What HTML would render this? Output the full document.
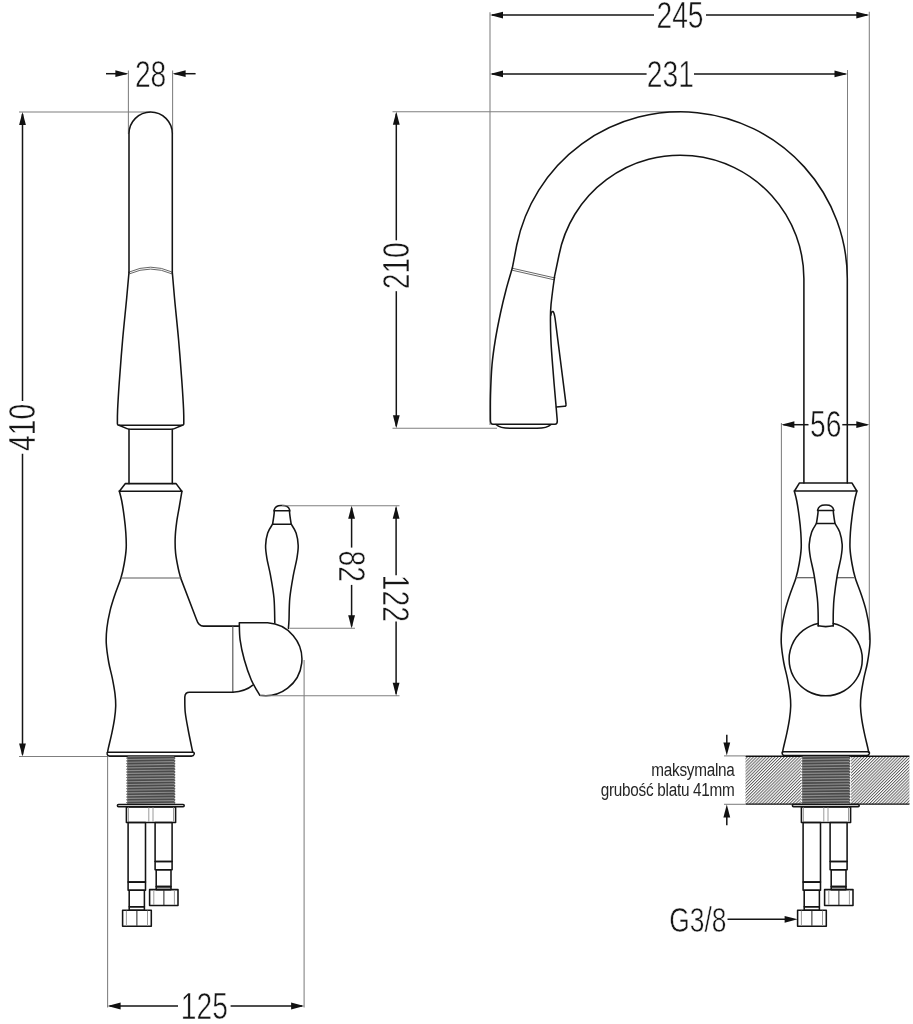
<!DOCTYPE html>
<html><head><meta charset="utf-8"><style>
html,body{margin:0;padding:0;background:#fff;}
svg{display:block;will-change:transform;}
.k{stroke:#141414;stroke-width:1.55;fill:none;stroke-linejoin:round;stroke-linecap:round;}
.g{stroke:#7f7f7f;stroke-width:1.05;fill:none;}
.b{stroke:#5a5a5a;stroke-width:1.2;fill:none;}
.r{stroke:#5e5e5e;stroke-width:0.95;fill:none;}
.c{stroke:#111;stroke-width:1.45;fill:none;}
.d{stroke:#151515;stroke-width:1.5;fill:none;}
.a{fill:#111;stroke:none;}
.t{font-family:"Liberation Sans",sans-serif;fill:#161616;stroke:#fff;stroke-width:0.55;}
.s{font-family:"Liberation Sans",sans-serif;fill:#262626;letter-spacing:-0.3px;}
</style></head><body>
<svg width="913" height="1024" viewBox="0 0 913 1024">
<rect width="913" height="1024" fill="#fff"/>
<line class="d" x1="106" y1="73.7" x2="126.5" y2="73.7"/>
<path class="a" d="M128.4,73.7 L115.4,77.1 L115.4,70.3 Z"/>
<line class="d" x1="195.6" y1="73.7" x2="174.5" y2="73.7"/>
<path class="a" d="M172.6,73.7 L185.6,70.3 L185.6,77.1 Z"/>
<line class="g" x1="128.4" y1="70.5" x2="128.4" y2="134"/>
<line class="g" x1="172.6" y1="70.5" x2="172.6" y2="134"/>
<text class="t" transform="translate(150.6,74) scale(0.773,1)" x="0" y="12.77" font-size="36.5" text-anchor="middle">28</text>
<line class="g" x1="19" y1="111.9" x2="150.6" y2="111.9"/>
<line class="d" x1="22.5" y1="113.9" x2="22.5" y2="401"/>
<line class="d" x1="22.5" y1="453.8" x2="22.5" y2="754.4"/>
<path class="a" d="M22.5,111.9 L25.9,124.9 L19.1,124.9 Z"/>
<path class="a" d="M22.5,756.4 L19.1,743.4 L25.9,743.4 Z"/>
<text class="t" transform="translate(22,427.4) rotate(-90) scale(0.773,1)" x="0" y="12.77" font-size="36.5" text-anchor="middle">410</text>
<line class="g" x1="19" y1="756.4" x2="108" y2="756.4"/>
<path class="k" d="M129,272.3 L129,133.7 A21.65,21.65 0 0 1 172.3,133.7 L172.3,272.3"/>
<path class="r" d="M129.3,272 Q150.6,262.4 172,272"/>
<path class="r" d="M129.3,273.9 Q150.6,264.3 172,273.9"/>
<path class="k" d="M129,272.3 C128.58,276.92 127.57,288.72 126.5,300 C125.43,311.28 123.8,326.33 122.6,340 C121.4,353.67 120.13,370.33 119.3,382 C118.47,393.67 117.92,403 117.6,410 C117.28,417 117.43,421.67 117.4,424 Q117.4,425.2 119,425.2 L182.2,425.2 Q183.8,425.2 183.8,424  C183.77,421.67 183.92,417 183.6,410 C183.28,403 182.73,393.67 181.9,382 C181.07,370.33 179.8,353.67 178.6,340 C177.4,326.33 175.75,311.28 174.7,300 C173.65,288.72 172.7,276.92 172.3,272.3"/>
<path class="k" d="M119,425.2 L127,428.6 Q128.5,429.2 131,429.2 L170.3,429.2 Q172.8,429.2 174.3,428.6 L182.3,425.2"/>
<line class="k" x1="129" y1="429.2" x2="129" y2="483.6"/>
<line class="k" x1="172.3" y1="429.2" x2="172.3" y2="483.6"/>
<path class="k" d="M125.4,483.6 L176.1,483.6 L181.8,491.3 L119.4,491.3 Z"/>
<path class="k" d="M119.3,491 C119.72,492.71 120.98,496.93 121.8,501.25 C122.62,505.57 123.53,511.69 124.2,516.9 C124.87,522.11 125.47,527.3 125.8,532.5 C126.13,537.7 126.47,542.89 126.2,548.1 C125.93,553.31 125.07,558.8 124.2,563.75 C123.33,568.7 122.57,572.59 121,577.8 C119.43,583.01 116.62,589.53 114.8,595 C112.98,600.47 111.42,605.1 110.1,610.6 C108.78,616.1 107.53,622.47 106.9,628 C106.27,633.53 105.99,638.05 106.3,643.8 C106.61,649.55 107.75,656.78 108.75,662.5 C109.75,668.22 111.26,672.88 112.3,678.1 C113.34,683.32 114.43,689.1 115,693.8 C115.57,698.5 115.78,702.13 115.7,706.3 C115.62,710.47 115.13,714.38 114.5,718.8 C113.87,723.22 112.93,727.87 111.9,732.8 C110.87,737.73 109.02,745.15 108.3,748.4 C107.58,751.65 107.72,751.65 107.6,752.3"/>
<path class="k" d="M107.6,752.3 L193.4,752.3 Q194.6,752.6 194.1,754.3 Q193.5,756.1 191.5,756.1 L109.6,756.1 Q107.7,756.1 107.2,754.3 Q106.9,752.6 107.6,752.3"/>
<path class="k" d="M181.9,491.3 C181.48,493.79 180.27,501.15 179.4,506.25 C178.53,511.35 177.4,516.69 176.7,521.9 C176,527.11 175.38,532.3 175.2,537.5 C175.02,542.7 175.08,547.89 175.6,553.1 C176.12,558.31 177.45,564.58 178.3,568.75 C179.15,572.92 180.3,576.54 180.7,578.1 L196.4,619.2 Q198.6,626.1 203.5,626.1 L238.6,626.1"/>
<line class="b" x1="120.9" y1="578" x2="181.8" y2="578"/>
<path class="k" d="M232.8,692.3 L189.5,692.3 Q185.1,692.3 184.8,697 C184.87,699.5 184.63,706.5 185.2,712 C185.77,717.5 186.97,723.4 188.2,730 C189.43,736.6 191.87,748 192.6,751.6"/>
<line class="b" x1="232.8" y1="626.3" x2="232.8" y2="692"/>
<path class="k" d="M232.8,692.3 Q245.5,691.5 252.8,685.2"/>
<path class="k" d="M267.6,622.8 A36.5,36.5 0 1 1 259.8,695.3 C258.37,692.78 253.78,685.63 251.2,679.7 C248.62,673.77 246.15,666.43 244.3,659.8 C242.45,653.17 240.93,646.07 240.1,639.9 C239.27,633.73 239.43,625.65 239.3,622.8 L267.6,622.8"/>
<path class="k" d="M272.6,524.2 C271.78,525.67 268.87,529.45 267.7,533 C266.53,536.55 265.73,541.28 265.6,545.5 C265.47,549.72 266.08,553.32 266.9,558.3 C267.72,563.28 269.32,568.75 270.5,575.4 C271.68,582.05 273.28,590.27 274,598.2 C274.72,606.13 274.67,618.87 274.8,623"/>
<path class="k" d="M288.4,628.4 C288.5,627 288.77,625.03 289,620 C289.23,614.97 289.08,605.63 289.8,598.2 C290.52,590.77 292.12,582.05 293.3,575.4 C294.48,568.75 296.08,563.28 296.9,558.3 C297.72,553.32 298.33,549.72 298.2,545.5 C298.07,541.28 297.27,536.55 296.1,533 C294.93,529.45 292.02,525.67 291.2,524.2"/>
<path class="k" d="M272.6,524.2 Q274.3,514 274.3,510.8 L289.5,510.8 Q289.5,514 291.2,524.2 Z"/>
<path class="k" d="M274,510.8 Q274.9,505.2 281.9,505.6 Q288.9,505.2 289.8,510.8"/>
<line class="g" x1="281.9" y1="505.8" x2="399.5" y2="505.8"/>
<line class="g" x1="289.4" y1="628.3" x2="355" y2="628.3"/>
<line class="g" x1="259.8" y1="695.8" x2="399.5" y2="695.8"/>
<line class="g" x1="304.1" y1="660" x2="304.1" y2="1007.5"/>
<line class="g" x1="107.6" y1="757" x2="107.6" y2="1007.5"/>
<line class="d" x1="351.6" y1="507.8" x2="351.6" y2="547.6"/>
<line class="d" x1="351.6" y1="584.9" x2="351.6" y2="626.3"/>
<path class="a" d="M351.6,505.8 L355,518.8 L348.2,518.8 Z"/>
<path class="a" d="M351.6,628.3 L348.2,615.3 L355,615.3 Z"/>
<text class="t" transform="translate(352,566.25) rotate(90) scale(0.773,1)" x="0" y="12.77" font-size="36.5" text-anchor="middle">82</text>
<line class="d" x1="396.1" y1="507.8" x2="396.1" y2="575.2"/>
<line class="d" x1="396.1" y1="621.6" x2="396.1" y2="693.8"/>
<path class="a" d="M396.1,505.8 L399.5,518.8 L392.7,518.8 Z"/>
<path class="a" d="M396.1,695.8 L392.7,682.8 L399.5,682.8 Z"/>
<text class="t" transform="translate(396.2,598.4) rotate(90) scale(0.773,1)" x="0" y="12.77" font-size="36.5" text-anchor="middle">122</text>
<line class="d" x1="109.6" y1="1006" x2="178" y2="1006"/>
<line class="d" x1="230.6" y1="1006" x2="302.1" y2="1006"/>
<path class="a" d="M107.6,1006 L120.6,1002.6 L120.6,1009.4 Z"/>
<path class="a" d="M304.1,1006 L291.1,1009.4 L291.1,1002.6 Z"/>
<text class="t" transform="translate(204.3,1005.8) scale(0.773,1)" x="0" y="12.77" font-size="36.5" text-anchor="middle">125</text>
<g transform="translate(0,0)">
<rect x="127.6" y="756.3" width="46.6" height="47.4" fill="#8c8c8c"/>
<path d="M127.6,758.1 L174.2,757.5 M127.6,760.88 L174.2,760.28 M127.6,763.66 L174.2,763.06 M127.6,766.44 L174.2,765.84 M127.6,769.22 L174.2,768.62 M127.6,772 L174.2,771.4 M127.6,774.78 L174.2,774.18 M127.6,777.56 L174.2,776.96 M127.6,780.34 L174.2,779.74 M127.6,783.12 L174.2,782.52 M127.6,785.9 L174.2,785.3 M127.6,788.68 L174.2,788.08 M127.6,791.46 L174.2,790.86 M127.6,794.24 L174.2,793.64 M127.6,797.02 L174.2,796.42 M127.6,799.8 L174.2,799.2 M127.6,802.58 L174.2,801.98" stroke="#4a4a4a" stroke-width="1.6" fill="none"/>
<path d="M127.6,757.2 L126.6,758.1 L127.6,759 M174.2,757.2 L175.2,758.1 L174.2,759 M127.6,759.98 L126.6,760.88 L127.6,761.78 M174.2,759.98 L175.2,760.88 L174.2,761.78 M127.6,762.76 L126.6,763.66 L127.6,764.56 M174.2,762.76 L175.2,763.66 L174.2,764.56 M127.6,765.54 L126.6,766.44 L127.6,767.34 M174.2,765.54 L175.2,766.44 L174.2,767.34 M127.6,768.32 L126.6,769.22 L127.6,770.12 M174.2,768.32 L175.2,769.22 L174.2,770.12 M127.6,771.1 L126.6,772 L127.6,772.9 M174.2,771.1 L175.2,772 L174.2,772.9 M127.6,773.88 L126.6,774.78 L127.6,775.68 M174.2,773.88 L175.2,774.78 L174.2,775.68 M127.6,776.66 L126.6,777.56 L127.6,778.46 M174.2,776.66 L175.2,777.56 L174.2,778.46 M127.6,779.44 L126.6,780.34 L127.6,781.24 M174.2,779.44 L175.2,780.34 L174.2,781.24 M127.6,782.22 L126.6,783.12 L127.6,784.02 M174.2,782.22 L175.2,783.12 L174.2,784.02 M127.6,785 L126.6,785.9 L127.6,786.8 M174.2,785 L175.2,785.9 L174.2,786.8 M127.6,787.78 L126.6,788.68 L127.6,789.58 M174.2,787.78 L175.2,788.68 L174.2,789.58 M127.6,790.56 L126.6,791.46 L127.6,792.36 M174.2,790.56 L175.2,791.46 L174.2,792.36 M127.6,793.34 L126.6,794.24 L127.6,795.14 M174.2,793.34 L175.2,794.24 L174.2,795.14 M127.6,796.12 L126.6,797.02 L127.6,797.92 M174.2,796.12 L175.2,797.02 L174.2,797.92 M127.6,798.9 L126.6,799.8 L127.6,800.7 M174.2,798.9 L175.2,799.8 L174.2,800.7 M127.6,801.68 L126.6,802.58 L127.6,803.48 M174.2,801.68 L175.2,802.58 L174.2,803.48" stroke="#333" stroke-width="0.8" fill="#555"/>
<rect class="k" x="117.4" y="804.4" width="66.8" height="2.3" rx="1.1"/>
<rect class="k" x="126.4" y="807" width="49.2" height="15.4" fill="#fff"/>
<line x1="128.4" y1="807.5" x2="128.4" y2="822" stroke="#9a9a9a" stroke-width="1"/>
<line x1="148.8" y1="807.5" x2="148.8" y2="822" stroke="#9a9a9a" stroke-width="1"/>
<line x1="153" y1="807.5" x2="153" y2="822" stroke="#9a9a9a" stroke-width="1"/>
<line x1="173.5" y1="807.5" x2="173.5" y2="822" stroke="#9a9a9a" stroke-width="1"/>
<rect class="k" x="128.1" y="822.4" width="17.4" height="59.7"/>
<rect class="k" x="128.1" y="882.1" width="17.4" height="8.1"/>
<rect class="k" x="129.2" y="890.2" width="15.2" height="16.6"/>
<rect class="k" x="129.2" y="906.8" width="15.2" height="3.4"/>
<rect class="k" x="122.6" y="910.2" width="28.7" height="16.1"/>
<line x1="126.4" y1="910.7" x2="126.4" y2="925.8" stroke="#9a9a9a" stroke-width="1"/>
<line x1="136.9" y1="910.7" x2="136.9" y2="925.8" stroke="#222" stroke-width="1"/>
<line x1="147.5" y1="910.7" x2="147.5" y2="925.8" stroke="#9a9a9a" stroke-width="1"/>
<rect class="k" x="155.1" y="822.4" width="17" height="39.1"/>
<rect class="k" x="155.1" y="861.5" width="17" height="8.3"/>
<rect class="k" x="156.2" y="869.8" width="14.8" height="16.8"/>
<rect class="k" x="156.2" y="886.6" width="14.8" height="3"/>
<rect class="k" x="149.6" y="889.6" width="28.4" height="15.9"/>
<line x1="153.8" y1="890.1" x2="153.8" y2="905" stroke="#9a9a9a" stroke-width="1"/>
<line x1="163.9" y1="890.1" x2="163.9" y2="905" stroke="#222" stroke-width="1"/>
<line x1="174.4" y1="890.1" x2="174.4" y2="905" stroke="#9a9a9a" stroke-width="1"/>
</g>
<line class="g" x1="490" y1="12.3" x2="490" y2="425"/>
<line class="g" x1="869.3" y1="11.7" x2="869.3" y2="640"/>
<line class="g" x1="847.5" y1="70" x2="847.5" y2="279"/>
<line class="d" x1="492" y1="15.1" x2="654" y2="15.1"/>
<line class="d" x1="706" y1="15.1" x2="867.3" y2="15.1"/>
<path class="a" d="M490,15.1 L503,11.7 L503,18.5 Z"/>
<path class="a" d="M869.3,15.1 L856.3,18.5 L856.3,11.7 Z"/>
<text class="t" transform="translate(680,15.4) scale(0.773,1)" x="0" y="12.77" font-size="36.5" text-anchor="middle">245</text>
<line class="d" x1="492" y1="73.9" x2="646.6" y2="73.9"/>
<line class="d" x1="694" y1="73.9" x2="845.5" y2="73.9"/>
<path class="a" d="M490,73.9 L503,70.5 L503,77.3 Z"/>
<path class="a" d="M847.5,73.9 L834.5,77.3 L834.5,70.5 Z"/>
<text class="t" transform="translate(670.3,74.4) scale(0.773,1)" x="0" y="12.77" font-size="36.5" text-anchor="middle">231</text>
<line class="g" x1="392.5" y1="111.7" x2="680.3" y2="111.7"/>
<line class="d" x1="396.3" y1="113.7" x2="396.3" y2="240.3"/>
<line class="d" x1="396.3" y1="291.2" x2="396.3" y2="426.2"/>
<path class="a" d="M396.3,111.7 L399.7,124.7 L392.9,124.7 Z"/>
<path class="a" d="M396.3,428.2 L392.9,415.2 L399.7,415.2 Z"/>
<text class="t" transform="translate(396,265.75) rotate(-90) scale(0.773,1)" x="0" y="12.77" font-size="36.5" text-anchor="middle">210</text>
<line class="g" x1="392.5" y1="428.2" x2="497" y2="428.2"/>
<path class="k" d="M512.4,267.7 L516.76,245 A167,167 0 0 1 847.3,278.8 L847.3,482.9"/>
<path class="k" d="M554.3,277.6 L559.01,255 A123.6,123.6 0 0 1 803.9,278.8 L803.9,482.9"/>
<path class="r" d="M512.6,268.3 L554.6,277.9"/>
<path class="r" d="M512.1,270.2 L554.2,279.8"/>
<path class="k" d="M512.3,268 C511.25,271.67 507.97,282.5 506,290 C504.03,297.5 502.28,304.67 500.5,313 C498.72,321.33 496.72,331.33 495.3,340 C493.88,348.67 492.8,355.83 492,365 C491.2,374.17 490.77,385.83 490.5,395 C490.23,404.17 490.42,415.83 490.4,420 Q490.4,424.3 493,424.3 L555,424.3 Q557.3,424.3 557.3,421 C557.1,418.63 556.75,414.47 556.1,406.8 C555.45,399.13 554.27,386.13 553.4,375 C552.53,363.87 551.37,350.67 550.9,340 C550.43,329.33 550.33,319 550.6,311 C550.87,303 551.85,297.6 552.5,292 C553.15,286.4 554.17,279.83 554.5,277.4"/>
<path class="k" d="M550.7,315.5 Q551.4,310.9 552.9,311.5 Q554.1,312.2 555.1,318.5 L566,404.2 Q566.4,406.2 564.4,406.3 L556.4,407"/>
<path class="k" d="M496,424.5 Q500,428.3 510,428.3 L537,428.3 Q547,428.3 551,424.5"/>
<line class="g" x1="781.4" y1="422.9" x2="781.4" y2="640"/>
<line class="d" x1="783.4" y1="424.7" x2="808.5" y2="424.7"/>
<path class="a" d="M781.4,424.7 L794.4,421.3 L794.4,428.1 Z"/>
<line class="d" x1="842.3" y1="424.7" x2="867.3" y2="424.7"/>
<path class="a" d="M869.3,424.7 L856.3,428.1 L856.3,421.3 Z"/>
<text class="t" transform="translate(825.8,424.4) scale(0.773,1)" x="0" y="12.77" font-size="36.5" text-anchor="middle">56</text>
<path class="k" d="M799.5,482.9 L851.9,482.9 L856.8,491 L794.5,491 Z"/>
<path class="k" d="M794.3,491 C794.72,492.71 795.98,496.93 796.8,501.25 C797.62,505.57 798.53,511.69 799.2,516.9 C799.87,522.11 800.47,527.3 800.8,532.5 C801.13,537.7 801.47,542.89 801.2,548.1 C800.93,553.31 800.07,558.8 799.2,563.75 C798.33,568.7 797.57,572.59 796,577.8 C794.43,583.01 791.62,589.53 789.8,595 C787.98,600.47 786.42,605.1 785.1,610.6 C783.78,616.1 782.53,622.47 781.9,628 C781.27,633.53 780.99,638.05 781.3,643.8 C781.61,649.55 782.75,656.78 783.75,662.5 C784.75,668.22 786.26,672.88 787.3,678.1 C788.34,683.32 789.43,689.1 790,693.8 C790.57,698.5 790.78,702.13 790.7,706.3 C790.62,710.47 790.13,714.38 789.5,718.8 C788.87,723.22 787.93,727.87 786.9,732.8 C785.87,737.73 784.02,745.15 783.3,748.4 C782.58,751.65 782.72,751.65 782.6,752.3"/>
<path class="k" d="M856.9,491 C856.48,492.71 855.22,496.93 854.4,501.25 C853.58,505.57 852.67,511.69 852,516.9 C851.33,522.11 850.73,527.3 850.4,532.5 C850.07,537.7 849.73,542.89 850,548.1 C850.27,553.31 851.13,558.8 852,563.75 C852.87,568.7 853.63,572.59 855.2,577.8 C856.77,583.01 859.58,589.53 861.4,595 C863.22,600.47 864.78,605.1 866.1,610.6 C867.42,616.1 868.67,622.47 869.3,628 C869.93,633.53 870.21,638.05 869.9,643.8 C869.59,649.55 868.45,656.78 867.45,662.5 C866.45,668.22 864.94,672.88 863.9,678.1 C862.86,683.32 861.77,689.1 861.2,693.8 C860.63,698.5 860.42,702.13 860.5,706.3 C860.58,710.47 861.07,714.38 861.7,718.8 C862.33,723.22 863.27,727.87 864.3,732.8 C865.33,737.73 867.18,745.15 867.9,748.4 C868.62,751.65 868.48,751.65 868.6,752.3"/>
<line class="b" x1="796" y1="577.7" x2="814" y2="577.7"/>
<line class="b" x1="836.9" y1="577.7" x2="854.3" y2="577.7"/>
<path class="k" d="M782.6,751.8 L868.6,751.8 Q869.8,752.1 869.3,753.8 Q868.7,755.6 866.7,755.6 L784.6,755.6 Q782.7,755.6 782.2,753.8 Q781.9,752.1 782.6,751.8"/>
<path class="k" d="M816.4,523.5 C815.62,524.92 812.9,528.48 811.7,532 C810.5,535.52 809.43,540.43 809.2,544.6 C808.97,548.77 809.48,551.93 810.3,557 C811.12,562.07 812.93,568.17 814.1,575 C815.27,581.83 816.63,591.83 817.3,598 C817.97,604.17 817.95,607.33 818.1,612 C818.25,616.67 818.18,623.67 818.2,626"/>
<path class="k" d="M835,523.5 C835.78,524.92 838.5,528.48 839.7,532 C840.9,535.52 841.97,540.43 842.2,544.6 C842.43,548.77 841.92,551.93 841.1,557 C840.28,562.07 838.47,568.17 837.3,575 C836.13,581.83 834.77,591.83 834.1,598 C833.43,604.17 833.45,607.33 833.3,612 C833.15,616.67 833.22,623.67 833.2,626"/>
<path class="k" d="M816.4,523.5 Q818.1,513.5 818.1,510.4 L833.3,510.4 Q833.3,513.5 835,523.5 Z"/>
<path class="k" d="M817.6,510.4 Q818.7,504.8 825.7,505.1 Q832.7,504.8 833.8,510.4"/>
<path class="k" d="M833.2,623.4 A36.6,36.6 0 1 1 818.2,623.4"/>
<path class="k" d="M818.2,625.8 Q825.7,627.4 833.2,625.8"/>
<defs><pattern id="hat" patternUnits="userSpaceOnUse" width="2.17" height="4" patternTransform="rotate(45)"><rect width="2.17" height="4" fill="#fff"/><rect width="0.95" height="4" fill="#5c5c5c"/></pattern></defs>
<rect x="745.5" y="756.2" width="163.9" height="47.9" fill="url(#hat)"/>
<line class="c" x1="745.5" y1="756.2" x2="909.4" y2="756.2"/>
<line class="c" x1="745.5" y1="804.1" x2="909.4" y2="804.1"/>
<rect x="800.9" y="756.9" width="50.2" height="46.6" fill="#fff"/>
<g transform="translate(675,0)">
<rect x="127.6" y="756.3" width="46.6" height="47.4" fill="#8c8c8c"/>
<path d="M127.6,758.1 L174.2,757.5 M127.6,760.88 L174.2,760.28 M127.6,763.66 L174.2,763.06 M127.6,766.44 L174.2,765.84 M127.6,769.22 L174.2,768.62 M127.6,772 L174.2,771.4 M127.6,774.78 L174.2,774.18 M127.6,777.56 L174.2,776.96 M127.6,780.34 L174.2,779.74 M127.6,783.12 L174.2,782.52 M127.6,785.9 L174.2,785.3 M127.6,788.68 L174.2,788.08 M127.6,791.46 L174.2,790.86 M127.6,794.24 L174.2,793.64 M127.6,797.02 L174.2,796.42 M127.6,799.8 L174.2,799.2 M127.6,802.58 L174.2,801.98" stroke="#4a4a4a" stroke-width="1.6" fill="none"/>
<path d="M127.6,757.2 L126.6,758.1 L127.6,759 M174.2,757.2 L175.2,758.1 L174.2,759 M127.6,759.98 L126.6,760.88 L127.6,761.78 M174.2,759.98 L175.2,760.88 L174.2,761.78 M127.6,762.76 L126.6,763.66 L127.6,764.56 M174.2,762.76 L175.2,763.66 L174.2,764.56 M127.6,765.54 L126.6,766.44 L127.6,767.34 M174.2,765.54 L175.2,766.44 L174.2,767.34 M127.6,768.32 L126.6,769.22 L127.6,770.12 M174.2,768.32 L175.2,769.22 L174.2,770.12 M127.6,771.1 L126.6,772 L127.6,772.9 M174.2,771.1 L175.2,772 L174.2,772.9 M127.6,773.88 L126.6,774.78 L127.6,775.68 M174.2,773.88 L175.2,774.78 L174.2,775.68 M127.6,776.66 L126.6,777.56 L127.6,778.46 M174.2,776.66 L175.2,777.56 L174.2,778.46 M127.6,779.44 L126.6,780.34 L127.6,781.24 M174.2,779.44 L175.2,780.34 L174.2,781.24 M127.6,782.22 L126.6,783.12 L127.6,784.02 M174.2,782.22 L175.2,783.12 L174.2,784.02 M127.6,785 L126.6,785.9 L127.6,786.8 M174.2,785 L175.2,785.9 L174.2,786.8 M127.6,787.78 L126.6,788.68 L127.6,789.58 M174.2,787.78 L175.2,788.68 L174.2,789.58 M127.6,790.56 L126.6,791.46 L127.6,792.36 M174.2,790.56 L175.2,791.46 L174.2,792.36 M127.6,793.34 L126.6,794.24 L127.6,795.14 M174.2,793.34 L175.2,794.24 L174.2,795.14 M127.6,796.12 L126.6,797.02 L127.6,797.92 M174.2,796.12 L175.2,797.02 L174.2,797.92 M127.6,798.9 L126.6,799.8 L127.6,800.7 M174.2,798.9 L175.2,799.8 L174.2,800.7 M127.6,801.68 L126.6,802.58 L127.6,803.48 M174.2,801.68 L175.2,802.58 L174.2,803.48" stroke="#333" stroke-width="0.8" fill="#555"/>
<rect class="k" x="117.4" y="804.4" width="66.8" height="2.3" rx="1.1"/>
<rect class="k" x="126.4" y="807" width="49.2" height="15.4" fill="#fff"/>
<line x1="128.4" y1="807.5" x2="128.4" y2="822" stroke="#9a9a9a" stroke-width="1"/>
<line x1="148.8" y1="807.5" x2="148.8" y2="822" stroke="#9a9a9a" stroke-width="1"/>
<line x1="153" y1="807.5" x2="153" y2="822" stroke="#9a9a9a" stroke-width="1"/>
<line x1="173.5" y1="807.5" x2="173.5" y2="822" stroke="#9a9a9a" stroke-width="1"/>
<rect class="k" x="128.1" y="822.4" width="17.4" height="59.7"/>
<rect class="k" x="128.1" y="882.1" width="17.4" height="8.1"/>
<rect class="k" x="129.2" y="890.2" width="15.2" height="16.6"/>
<rect class="k" x="129.2" y="906.8" width="15.2" height="3.4"/>
<rect class="k" x="122.6" y="910.2" width="28.7" height="16.1"/>
<line x1="126.4" y1="910.7" x2="126.4" y2="925.8" stroke="#9a9a9a" stroke-width="1"/>
<line x1="136.9" y1="910.7" x2="136.9" y2="925.8" stroke="#222" stroke-width="1"/>
<line x1="147.5" y1="910.7" x2="147.5" y2="925.8" stroke="#9a9a9a" stroke-width="1"/>
<rect class="k" x="155.1" y="822.4" width="17" height="39.1"/>
<rect class="k" x="155.1" y="861.5" width="17" height="8.3"/>
<rect class="k" x="156.2" y="869.8" width="14.8" height="16.8"/>
<rect class="k" x="156.2" y="886.6" width="14.8" height="3"/>
<rect class="k" x="149.6" y="889.6" width="28.4" height="15.9"/>
<line x1="153.8" y1="890.1" x2="153.8" y2="905" stroke="#9a9a9a" stroke-width="1"/>
<line x1="163.9" y1="890.1" x2="163.9" y2="905" stroke="#222" stroke-width="1"/>
<line x1="174.4" y1="890.1" x2="174.4" y2="905" stroke="#9a9a9a" stroke-width="1"/>
</g>
<line class="g" x1="724" y1="755.9" x2="745.5" y2="755.9"/>
<line class="g" x1="724" y1="804.3" x2="745.5" y2="804.3"/>
<line class="d" x1="726.8" y1="734.8" x2="726.8" y2="743"/>
<path class="a" d="M726.8,755.4 L723.4,742.4 L730.2,742.4 Z"/>
<line class="d" x1="726.8" y1="825.3" x2="726.8" y2="817"/>
<path class="a" d="M726.8,804.6 L730.2,817.6 L723.4,817.6 Z"/>
<text class="s" transform="translate(734.6,776.4) scale(0.87,1)" x="0" y="0" font-size="17.6" text-anchor="end">maksymalna</text>
<text class="s" transform="translate(734.6,796.1) scale(0.87,1)" x="0" y="0" font-size="17.6" text-anchor="end">grubość blatu 41mm</text>
<text class="t" transform="translate(669.2,932.2) scale(0.733,1)" x="0" y="0" font-size="36" text-anchor="start">G3/8</text>
<line class="d" x1="727.5" y1="919.3" x2="785" y2="919.3"/>
<path class="a" d="M797.6,919.3 L784.6,922.7 L784.6,915.9 Z"/>
</svg>
</body></html>
